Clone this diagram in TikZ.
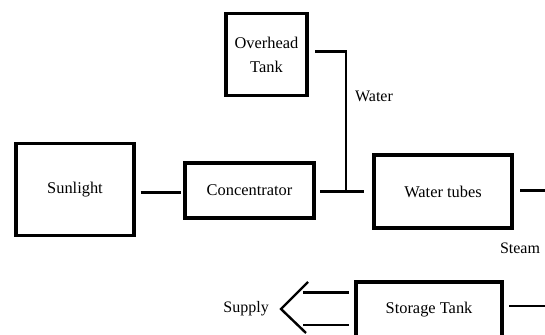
\documentclass[tikz,border=0pt]{standalone}
\usepackage{fontspec}
\setmainfont{Liberation Serif}
\usetikzlibrary{positioning}

\begin{document}
\begin{tikzpicture}[x=1pt,y=1pt,
  block/.style={draw, line width=3.8pt, align=center, font=\fontsize{16.4}{24}\selectfont, inner sep=0pt},
  link/.style={line width=2.4pt},
  tag/.style={font=\fontsize{16}{18}\selectfont, inner sep=0pt}]
\useasboundingbox (0,0) rectangle (545,334);
\node[block, minimum width=81.5pt, minimum height=82pt] (tank) at (266.5,279.5) {Overhead\\Tank};
\node[block, minimum width=117.5pt, minimum height=92pt] (sun) at (75,144.5) {Sunlight};
\node[block, minimum width=128.5pt, minimum height=55.5pt] (conc) at (249.5,143.5) {Concentrator};
\node[block, minimum width=138.5pt, minimum height=73.5pt] (tubes) at (443,142.5) {Water tubes};
\node[block, minimum width=146.5pt, minimum height=62pt] (store) at (429,21) {\raisebox{10pt}{Storage Tank}};
\coordinate (join) at (346,142.3);
\coordinate (steamend) at (547,143.3);
\coordinate (returnend) at (547,28);
\coordinate (tip) at (281,25);
\draw[link] ([shift={(5pt,-3.2pt)}]sun.east) -- ([shift={(-2.5pt,-2.2pt)}]conc.west);
\draw[link] ([shift={(4.5pt,-1.2pt)}]conc.east) -- (join) -- ([shift={(-8pt,-0.2pt)}]tubes.west);
\draw[link, line join=miter] (join) -- (346,282.3) -- ([shift={(6pt,2.8pt)}]tank.east);
\draw[link] ([xshift=6pt]tubes.east |- steamend) -- (steamend);
\draw[link] ([xshift=5pt]store.east |- returnend) -- (returnend);
\draw[link] ([shift={(-5pt,20.3pt)}]store.west) -- ([shift={(-51pt,20.3pt)}]store.west);
\draw[link] ([shift={(-5pt,-12pt)}]store.west) -- ([shift={(-51pt,-12pt)}]store.west);
\draw[link, line join=miter] (308,52) -- (tip) -- (306,1);
\node[tag] (water) at (374,238) {Water};
\node[tag] (steam) at (520,86) {Steam};
\node[tag, left=12pt of tip] (supply) {Supply};
\end{tikzpicture}
\end{document}
